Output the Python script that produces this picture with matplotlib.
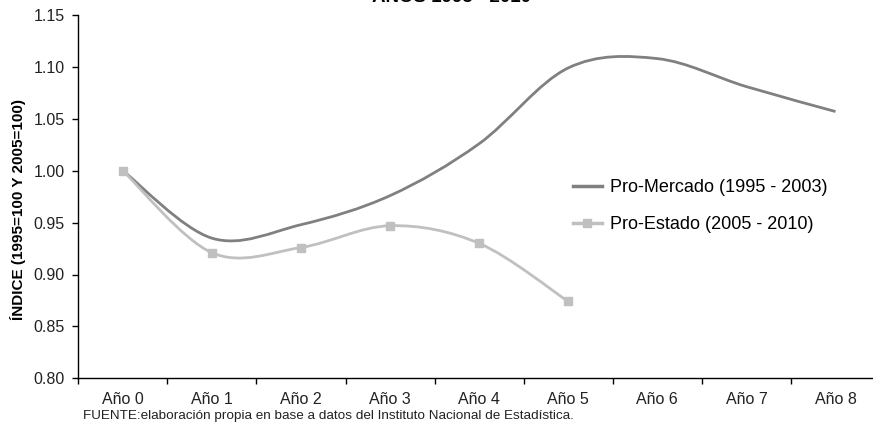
import numpy as np
import matplotlib.pyplot as plt
from matplotlib.path import Path
from matplotlib.patches import PathPatch
from matplotlib.lines import Line2D

plt.rcParams['font.family'] = ['Liberation Sans', 'DejaVu Sans']

categorias = ['Año 0', 'Año 1', 'Año 2', 'Año 3', 'Año 4', 'Año 5', 'Año 6', 'Año 7', 'Año 8']
pro_mercado = [1.000, 0.935, 0.948, 0.976, 1.026, 1.099, 1.108, 1.081, 1.057]
pro_estado = [1.000, 0.921, 0.926, 0.947, 0.930, 0.874]

titulo = 'AÑOS 1995 - 2010'
ylabel = 'ÍNDICE (1995=100 Y 2005=100)'
fuente = 'FUENTE:elaboración propia en base a datos del Instituto Nacional de Estadística.'
nombres = ['Pro-Mercado (1995 - 2003)', 'Pro-Estado (2005 - 2010)']

c_mercado = '#808080'
c_estado = '#c0c0c0'


def smooth_path(x, y):
    # bezier segments like the office "smoothed line"
    p = np.column_stack([x, y]).astype(float)
    n = len(p)
    verts = [p[0]]
    codes = [Path.MOVETO]
    for i in range(n - 1):
        p0 = p[i - 1] if i > 0 else p[i]
        p3 = p[i + 2] if i + 2 < n else p[i + 1]
        c1 = p[i] + (p[i + 1] - p0) / 6.0
        c2 = p[i + 1] - (p3 - p[i]) / 6.0
        verts += [c1, c2, p[i + 1]]
        codes += [Path.CURVE4] * 3
    return Path(verts, codes)


fig = plt.figure(figsize=(8.73, 4.22), dpi=100)
ax = fig.add_axes([78.3 / 873, 1 - 378.3 / 422, 801.7 / 873, 363.3 / 422])

x_m = np.arange(len(pro_mercado))
x_e = np.arange(len(pro_estado))

ax.add_patch(PathPatch(smooth_path(x_m, pro_mercado), fill=False, edgecolor=c_mercado,
                       lw=2.0, capstyle='butt', zorder=3))
ax.add_patch(PathPatch(smooth_path(x_e, pro_estado), fill=False, edgecolor=c_estado,
                       lw=2.0, capstyle='butt', zorder=3))
ax.plot(x_e, pro_estado, 's', color=c_estado, ms=6, zorder=4)

ax.set_xlim(-0.5, len(categorias) - 0.5)
ax.set_ylim(0.80, 1.15)
ax.set_yticks(np.arange(0.80, 1.151, 0.05))
ax.yaxis.set_major_formatter(plt.FormatStrFormatter('%.2f'))
ax.set_xticks(np.arange(len(categorias)))
ax.set_xticklabels(categorias)
ax.set_xticks(np.arange(len(categorias) + 1) - 0.5, minor=True)
ax.tick_params(axis='x', which='major', length=0, pad=10, labelsize=11.5, colors='#222222')
ax.tick_params(axis='x', which='minor', length=4, width=1, direction='out')
ax.tick_params(axis='y', length=4, width=1, pad=6, labelsize=11.5, labelcolor='#222222')

for s in ['top', 'right']:
    ax.spines[s].set_visible(False)
for s in ['left', 'bottom']:
    ax.spines[s].set_linewidth(1)
    ax.spines[s].set_color('black')

fig.text(18 / 873, 1 - 210 / 422, ylabel, rotation=90, ha='center', va='center',
         fontsize=11, fontweight='bold')
fig.text(451 / 873, 1 - 2 / 422, titulo, ha='center', va='baseline',
         fontsize=13.5, fontweight='bold')
fig.text(83 / 873, 1 - 419 / 422, fuente, ha='left', va='baseline', fontsize=9.7,
         color='#222222')

handles = [Line2D([], [], color=c_mercado, lw=2.5),
           Line2D([], [], color=c_estado, lw=2.5, marker='s', ms=6)]
fig.legend(handles, nombres, loc='upper left', bbox_to_anchor=(573 / 873, 1 - 179 / 422),
           frameon=False, fontsize=13, handlelength=1.6, handletextpad=0.45,
           labelspacing=1.1, borderpad=0, borderaxespad=0)

fig.savefig('out.png', dpi=100)
